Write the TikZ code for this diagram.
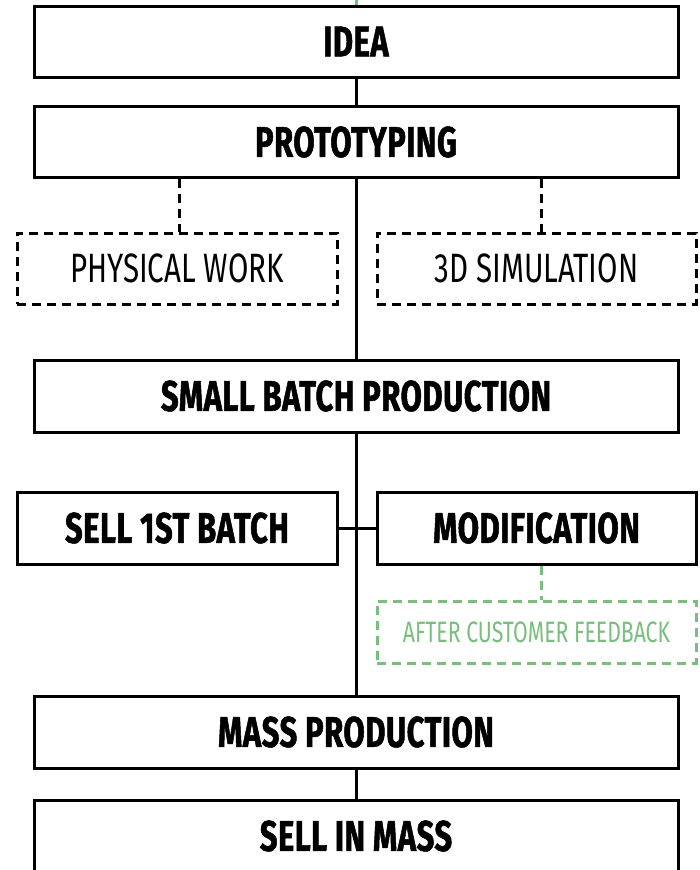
\documentclass[tikz,border=0pt]{standalone}
\usepackage{fontspec}
\setmainfont{Fira Sans}[FakeStretch=0.72,BoldFeatures={FakeBold=1.2,LetterSpace=1.2}]
\definecolor{lgreen}{RGB}{120,190,125}
\begin{document}
\begin{tikzpicture}[x=1pt,y=-1pt,
  mainbox/.style={draw=black,line width=3pt,fill=white,inner sep=0pt,
    minimum width=644pt,minimum height=71pt,
    font=\fontsize{43}{48}\selectfont\bfseries},
  sidebox/.style={draw=black,line width=3pt,fill=white,inner sep=0pt,
    minimum width=320pt,minimum height=71pt,
    font=\fontsize{43}{48}\selectfont\bfseries},
  optbox/.style={draw=black,line width=3pt,dash pattern=on 9pt off 6pt,inner sep=0pt,
    minimum width=320pt,minimum height=71pt,
    font=\fontsize{41}{46}\selectfont},
  notebox/.style={draw=lgreen,line width=3pt,dash pattern=on 9pt off 6pt,inner sep=0pt,
    minimum width=319pt,minimum height=62pt,text=lgreen,
    font=\fontsize{29.5}{34}\selectfont},
  link/.style={draw=black,line width=3pt},
  dlink/.style={draw=black,line width=3pt,dash pattern=on 9pt off 6pt},
  glink/.style={draw=lgreen,line width=3pt,dash pattern=on 9pt off 6pt}
]
\useasboundingbox (0,0) rectangle (699,870);
\coordinate (topend) at (356,0);
\node[mainbox] (idea) at (356,41.5) {IDEA};
\node[mainbox] (proto) at (356,142) {PROTOTYPING};
\node[optbox] (phys) at (177,268.5) {PHYSICAL WORK};
\node[optbox,minimum width=319pt] (sim) at (536.5,268.5) {3D SIMULATION};
\node[mainbox,minimum height=72pt] (small) at (356,396) {SMALL BATCH PRODUCTION};
\node[sidebox,minimum height=72pt] (sell1) at (177,528) {SELL 1ST BATCH};
\node[sidebox,minimum width=319pt,minimum height=72pt] (modif) at (536.5,528) {MODIFICATION};
\node[notebox] (after) at (536.5,632) {AFTER CUSTOMER FEEDBACK};
\node[mainbox,minimum height=72pt] (mass) at (356,732) {MASS PRODUCTION};
\node[mainbox,minimum height=72pt] (sellmass) at (356,836) {SELL IN MASS};
% connectors
\draw[draw=lgreen,line width=3pt] (topend) -- (idea.north);
\draw[link] (idea.south) -- (proto.north);
\draw[link] (proto.south) -- (small.north);
\draw[link] (small.south) -- (mass.north);
\draw[link] (mass.south) -- (sellmass.north);
\draw[link] (sell1.east) -- (modif.west);
\draw[dlink] ([xshift=2pt]phys.north |- proto.south) -- ([xshift=2pt]phys.north);
\draw[dlink] ([xshift=4.5pt]sim.north |- proto.south) -- ([xshift=4.5pt]sim.north);
\draw[glink] ([xshift=4.5pt]modif.south) -- ([xshift=4.5pt]after.north);
\end{tikzpicture}
\end{document}
